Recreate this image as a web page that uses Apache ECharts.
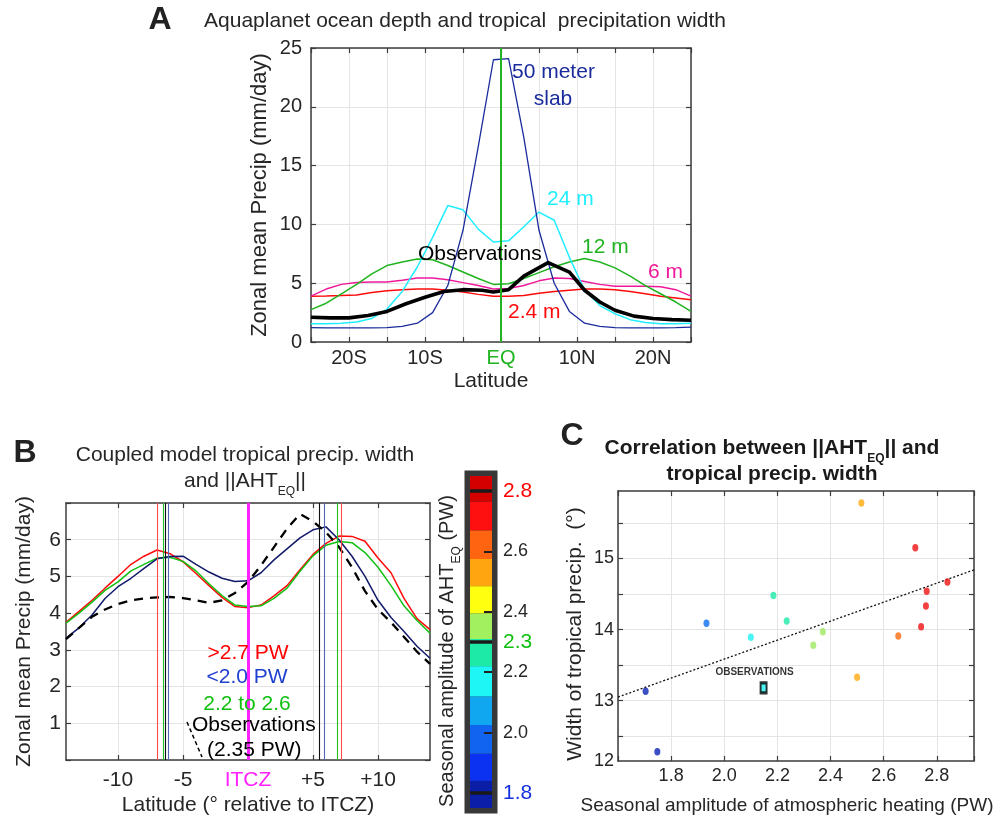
<!DOCTYPE html>
<html>
<head>
<meta charset="utf-8">
<script src="https://cdn.jsdelivr.net/npm/echarts@6/dist/echarts.min.js"></script>
<style>
  html, body { margin: 0; padding: 0; background: #fff; }
  #chart { width: 1005px; height: 821px; }
</style>
</head>
<body>
<div id="chart"></div>
<script>
// ---- panel A: aquaplanet, zonal mean precip (mm/day) vs latitude
const latA = [-25, -23, -21, -19, -17, -15, -13, -11, -9, -7, -5, -3, -1, 1, 3, 5, 7, 9, 11, 13, 15, 17, 19, 21, 23, 25];
const slab50 = [1.22, 1.2, 1.2, 1.2, 1.2, 1.22, 1.33, 1.6, 2.5, 4.8, 9.5, 16.6, 24.0, 24.1, 17.4, 9.5, 5.0, 2.6, 1.6, 1.33, 1.22, 1.2, 1.2, 1.2, 1.22, 1.27];
const slab24 = [1.56, 1.56, 1.6, 1.7, 2.0, 2.8, 4.3, 6.4, 8.9, 11.6, 11.25, 9.6, 8.5, 8.6, 9.8, 11.05, 10.35, 7.2, 4.4, 3.1, 2.4, 1.9, 1.65, 1.55, 1.55, 1.6];
const slab12 = [2.75, 3.3, 4.1, 4.9, 5.8, 6.5, 6.8, 7.05, 7.0, 6.5, 5.95, 5.4, 4.9, 4.95, 5.4, 5.9, 6.4, 6.8, 7.1, 6.8, 6.3, 5.6, 4.8, 4.1, 3.4, 2.6];
const slab6 = [3.9, 4.5, 4.9, 5.05, 5.1, 5.1, 5.25, 5.45, 5.45, 5.3, 5.05, 4.8, 4.5, 4.55, 4.8, 5.2, 5.45, 5.4, 5.15, 4.9, 4.75, 4.75, 4.75, 4.7, 4.45, 3.9];
const slab2p4 = [3.9, 3.92, 3.95, 4.0, 4.2, 4.35, 4.45, 4.5, 4.5, 4.4, 4.25, 4.05, 3.9, 3.9, 3.95, 4.15, 4.3, 4.4, 4.5, 4.5, 4.45, 4.3, 4.1, 3.9, 3.75, 3.6];
const obsLatA = [-25, -22.5, -20, -17.5, -15, -12.5, -10, -7.5, -5, -2.5, -1, 1, 3, 6.2, 9, 11, 13, 15, 17.5, 20, 22.5, 25];
const obsA = [2.1, 2.05, 2.05, 2.25, 2.6, 3.25, 3.8, 4.3, 4.45, 4.4, 4.25, 4.45, 5.6, 6.75, 5.95, 4.4, 3.4, 2.7, 2.2, 2.0, 1.9, 1.85];
const latTicksA = [-20, -10, 0, 10, 20];
const latNamesA = ['20S', '10S', 'EQ', '10N', '20N'];

// ---- panel B: coupled models, precip vs latitude relative to ITCZ
const latB = [-14, -13, -12, -11, -10, -9, -8, -7, -6, -5, -4, -3, -2, -1, 0, 1, 2, 3, 4, 5, 6, 7, 8, 9, 10, 11, 12, 13, 14];
const highB = [3.75, 4.05, 4.35, 4.68, 5.0, 5.33, 5.55, 5.72, 5.62, 5.4, 5.08, 4.75, 4.43, 4.18, 4.15, 4.22, 4.47, 4.75, 5.18, 5.6, 5.9, 6.1, 6.09, 5.96, 5.5, 5.1, 4.4, 3.85, 3.55];
const midB = [3.73, 4.0, 4.3, 4.62, 4.85, 5.15, 5.33, 5.5, 5.52, 5.41, 5.15, 4.8, 4.48, 4.22, 4.18, 4.2, 4.4, 4.68, 5.14, 5.56, 5.85, 5.95, 5.92, 5.65, 5.25, 4.75, 4.2, 3.8, 3.45];
const lowB = [3.32, 3.6, 3.95, 4.4, 4.72, 4.95, 5.22, 5.48, 5.54, 5.55, 5.33, 5.12, 4.95, 4.86, 4.88, 5.1, 5.45, 5.75, 6.05, 6.27, 6.35, 6.0, 5.55, 5.0, 4.35, 3.88, 3.5, 3.1, 2.77];
const obsB = [3.29, 3.6, 3.9, 4.1, 4.25, 4.35, 4.4, 4.43, 4.44, 4.41, 4.35, 4.28, 4.35, 4.55, 4.85, 5.3, 5.8, 6.3, 6.7, 6.5, 6.2, 5.8, 5.25, 4.6, 4.1, 3.75, 3.35, 2.95, 2.62];
// edges of the tropical precip band for each group
const edgesHigh = [-7.0, 7.2];
const edgesMid = [-6.55, 6.9];
const edgesLow = [-6.15, 5.9];
const edgesObs = [-6.38, 5.46];
const latTicksB = [-10, -5, 0, 5, 10];

// ---- colour bar (seasonal amplitude of AHT_EQ, PW)
const cbEdges = [1.75, 1.84, 1.93, 2.025, 2.12, 2.22, 2.31, 2.395, 2.485, 2.575, 2.67, 2.765, 2.85];
const cbColors = ['#0a1ea8', '#0a32f0', '#1064f0', '#10a6f0', '#1ef5f5', '#1eeaa8', '#a2f060', '#ffff10', '#ffa510', '#ff6410', '#ff1010', '#d40000'];
const cbLabels = [1.8, 2.0, 2.2, 2.3, 2.4, 2.6, 2.8];
const cbMinorTicks = [2.0, 2.2, 2.4, 2.6];
const cbBold = [1.8, 2.3, 2.8];

// ---- panel C: width of tropical precip vs seasonal amplitude
const ampC = [1.704, 1.748, 1.933, 2.1, 2.185, 2.235, 2.335, 2.371, 2.516, 2.5, 2.655, 2.719, 2.762, 2.759, 2.741, 2.84];
const widthC = [13.13, 12.28, 14.09, 13.89, 14.48, 14.12, 13.78, 13.97, 15.78, 13.33, 13.91, 15.15, 14.54, 14.33, 14.04, 14.67];
const obsAmpC = 2.148;
const obsWidthC = 13.18;
const fitX = [1.6, 2.94];
const fitY = [13.05, 14.84];
const widthTicksC = [12.5, 13, 13.5, 14, 14.5, 15, 15.5];
const widthLabelsC = [12.15, 13, 14, 15];

const FONT = '"Liberation Sans", Arial, Helvetica, sans-serif';
const AX = '#3c3c3c', GRID = '#e4e4e4', TXT = '#262626';
const NAVY = '#1a2c9c', CYAN = '#20eeff', GREEN = '#1fb41f', PINK = '#f0189a', RED = '#ff0a0a';

const pairs = (xs, ys) => xs.map((x, i) => [x, ys[i]]);

function axis(p) {
  const a = {
    type: 'value', gridIndex: p.grid, position: p.pos, min: p.min, max: p.max,
    axisLine: { show: true, onZero: false, lineStyle: { color: AX, width: 1.5 } },
    axisTick: { show: true, inside: true, length: 5, lineStyle: { color: AX, width: 1.2 } },
    axisLabel: { show: !!p.fmt, color: TXT, fontSize: p.fontSize || 20, fontFamily: FONT,
      margin: p.margin == null ? 8 : p.margin, formatter: p.fmt, rich: p.rich || {} },
    splitLine: { show: !!p.split, lineStyle: { color: GRID, width: 1 } },
    z: 3
  };
  if (p.interval != null) a.interval = p.interval;
  if (p.ticks) a.axisTick.customValues = p.ticks;
  if (p.labels) a.axisLabel.customValues = p.labels;
  if (p.name) {
    a.name = p.name;
    a.nameLocation = 'middle';
    a.nameGap = p.nameGap;
    a.nameTextStyle = { color: TXT, fontSize: p.nameSize, fontFamily: FONT, rich: p.nameRich || {}, padding: p.namePad || 0 };
  }
  return a;
}

const subRich = (size, bold) => ({ s: { fontSize: size, fontFamily: FONT, fontWeight: bold ? 'bold' : 'normal',
  verticalAlign: 'bottom', lineHeight: 14, padding: [0, 0, -6, 0] } });

const xAxis = [
  // 0,1: panel A
  axis({ grid: 0, pos: 'bottom', min: -25, max: 25, interval: 5, split: true, margin: 6,
    fmt: v => { const i = latTicksA.indexOf(v); return i < 0 ? '' : (v === 0 ? '{eq|EQ}' : latNamesA[i]); },
    rich: { eq: { color: GREEN, fontSize: 20, fontFamily: FONT } },
    name: 'Latitude', nameGap: 29, nameSize: 21, namePad: [0, 20, 0, 0] }),
  axis({ grid: 0, pos: 'top', min: -25, max: 25, interval: 5 }),
  // 2,3: panel B
  axis({ grid: 1, pos: 'bottom', min: -14, max: 14, ticks: latTicksB, labels: latTicksB, split: true, margin: 10,
    fmt: v => v === 0 ? '{itcz|ITCZ}' : (v > 0 ? '+' + v : String(v)),
    rich: { itcz: { color: '#ff22ff', fontSize: 21, fontFamily: FONT } }, fontSize: 21,
    name: 'Latitude (\u00b0 relative to ITCZ)', nameGap: 35, nameSize: 21 }),
  axis({ grid: 1, pos: 'top', min: -14, max: 14, ticks: latTicksB }),
  // 4: colour bar
  { type: 'category', gridIndex: 2, data: [''], show: false },
  // 5,6: panel C
  axis({ grid: 3, pos: 'bottom', min: 1.6, max: 2.94, interval: 0.2, split: true, margin: 6, fontSize: 18,
    fmt: v => (v < 1.7 || v > 2.85) ? '' : v.toFixed(1),
    name: 'Seasonal amplitude of atmospheric heating (PW)', nameGap: 35, nameSize: 19, namePad: [0, 18, 0, 0] }),
  axis({ grid: 3, pos: 'top', min: 1.6, max: 2.94, interval: 0.2 })
];

const cbRich = {
  r: { color: '#ff0000', fontSize: 21, fontFamily: FONT },
  g: { color: '#10c010', fontSize: 21, fontFamily: FONT },
  b: { color: '#1530e0', fontSize: 21, fontFamily: FONT },
  k: { color: TXT, fontSize: 18, fontFamily: FONT }
};

const yAxis = [
  // 0,1: panel A
  axis({ grid: 0, pos: 'left', min: 0, max: 25, interval: 5, split: true, margin: 9,
    fmt: v => String(v), name: 'Zonal mean Precip (mm/day)', nameGap: 40, nameSize: 22 }),
  axis({ grid: 0, pos: 'right', min: 0, max: 25, interval: 5 }),
  // 2,3: panel B
  axis({ grid: 1, pos: 'left', min: 0, max: 7, interval: 1, split: true, margin: 5, fontSize: 21,
    fmt: v => (v === 0 || v === 7) ? '' : String(v), name: 'Zonal mean Precip (mm/day)', nameGap: 31, nameSize: 21 }),
  axis({ grid: 1, pos: 'right', min: 0, max: 7, interval: 1 }),
  // 4: colour bar labels (right)
  {
    type: 'value', gridIndex: 2, position: 'right', min: cbEdges[0], max: cbEdges[cbEdges.length - 1], z: 10,
    axisLine: { show: false },
    axisTick: { show: true, inside: true, length: 8, customValues: cbMinorTicks, lineStyle: { color: '#202020', width: 2 } },
    axisLabel: { show: true, margin: 11, customValues: cbLabels, rich: cbRich,
      formatter: v => { const s = v.toFixed(1); const k = s === '2.8' ? 'r' : s === '2.3' ? 'g' : s === '1.8' ? 'b' : 'k'; return '{' + k + '|' + s + '}'; } },
    splitLine: { show: false }
  },
  // 5: colour bar name (left)
  {
    type: 'value', gridIndex: 2, position: 'left', min: 0, max: 1,
    axisLine: { show: false }, axisTick: { show: false }, axisLabel: { show: false }, splitLine: { show: false },
    name: 'Seasonal amplitude of AHT{s|EQ} (PW)', nameLocation: 'middle', nameGap: 13,
    nameTextStyle: { color: TXT, fontSize: 20, fontFamily: FONT, rich: subRich(12), padding: [0, 18, 0, 0] }
  },
  // 6,7: panel C
  axis({ grid: 3, pos: 'left', min: 12.15, max: 15.95, ticks: widthTicksC, labels: widthLabelsC, split: true, margin: 4, fontSize: 18,
    fmt: v => String(Math.round(v)), name: 'Width of tropical precip.  (\u00b0)', nameGap: 32, nameSize: 21, namePad: [0, 16, 0, 0] }),
  axis({ grid: 3, pos: 'right', min: 12.15, max: 15.95, ticks: widthTicksC })
];

const vline = (v, color, width) => ({ xAxis: v, lineStyle: { color, width, type: 'solid' } });
const markLines = data => ({ silent: true, symbol: 'none', label: { show: false }, animation: false, data });

const series = [];
// panel A curves
const lineA = (ys, color, width, xs) => ({
  type: 'line', xAxisIndex: 0, yAxisIndex: 0, data: pairs(xs || latA, ys), symbol: 'none',
  lineStyle: { color, width }, z: 3
});
series.push(lineA(slab2p4, RED, 1.5));
series.push(lineA(slab6, PINK, 1.5));
series.push(lineA(slab12, GREEN, 1.5));
series.push(lineA(slab24, CYAN, 1.5));
series.push(Object.assign(lineA(slab50, NAVY, 1.3), { markLine: markLines([vline(0, '#22b422', 2)]) }));
series.push(lineA(obsA, '#000', 3.6, obsLatA));

// panel B curves
const lineB = (ys, color, edgeColor, edges, dashed) => ({
  type: 'line', xAxisIndex: 2, yAxisIndex: 2, data: pairs(latB, ys), symbol: 'none',
  lineStyle: { color, width: dashed ? 2.3 : 1.5, type: dashed ? [9, 7] : 'solid' }, z: 3,
  markLine: markLines(edges.map(e => vline(e, edgeColor, 1.1)))
});
series.push(lineB(highB, RED, '#ff4a4a', edgesHigh));
series.push(lineB(midB, '#12c012', '#22c022', edgesMid));
series.push(lineB(lowB, '#111a6a', '#5565b5', edgesLow));
series.push(lineB(obsB, '#000', '#111', edgesObs, true));
series.push({ type: 'line', xAxisIndex: 2, yAxisIndex: 2, data: [], z: 4,
  markLine: markLines([vline(0, '#ff22ff', 3)]) });

// colour bar as stacked bar segments
cbColors.forEach((c, i) => {
  series.push({
    type: 'bar', xAxisIndex: 4, yAxisIndex: 4, stack: 'cb', barWidth: '100%', silent: true,
    data: [i === 0 ? cbEdges[1] : +(cbEdges[i + 1] - cbEdges[i]).toFixed(4)],
    itemStyle: { color: c },
    markLine: i === 0 ? { silent: true, symbol: 'none', label: { show: false },
      lineStyle: { color: '#1a1a1a', width: 3.5, type: 'solid' }, data: cbBold.map(v => ({ yAxis: v })) } : undefined,
    z: 2
  });
});

// panel C
series.push({ type: 'line', xAxisIndex: 5, yAxisIndex: 6, data: pairs(fitX, fitY), symbol: 'none',
  lineStyle: { color: '#111', width: 1.3, type: [2, 2] }, z: 3 });
const scatterIdx = series.length;
series.push({ type: 'scatter', xAxisIndex: 5, yAxisIndex: 6, data: pairs(ampC, widthC),
  symbol: 'circle', symbolSize: [6, 7.5], z: 4 });
series.push({ type: 'scatter', xAxisIndex: 5, yAxisIndex: 6, data: [[obsAmpC, obsWidthC]],
  symbol: 'rect', symbolSize: [6, 10], z: 5,
  itemStyle: { color: '#22f0f0', borderColor: '#000', borderWidth: 2.5 },
  label: { show: true, position: 'top', distance: 4, offset: [-9, 0], formatter: 'OBSERVATIONS',
    color: '#000', fontSize: 10, fontWeight: 'bold', fontFamily: FONT } });

function T(x, y, text, o) {
  o = o || {};
  const align = o.align || 'left';
  return {
    type: 'text', x, y, z: 50, silent: true,
    style: Object.assign({ text, fill: TXT, fontSize: 20, fontFamily: FONT,
      align, textAlign: align, verticalAlign: 'middle', textVerticalAlign: 'middle' }, o, { align, textAlign: align })
  };
}

const graphic = [
  T(160, 20, 'A', { fontSize: 32, fontWeight: 'bold', align: 'center', fill: '#222' }),
  T(465, 21, 'Aquaplanet ocean depth and tropical  precipitation width', { fontSize: 21, align: 'center' }),
  T(512, 72, '50 meter', { fill: NAVY, fontSize: 21 }),
  T(553, 99, 'slab', { fill: NAVY, fontSize: 21, align: 'center' }),
  T(547, 199, '24 m', { fill: CYAN, fontSize: 21 }),
  T(582, 247, '12 m', { fill: GREEN, fontSize: 21 }),
  T(648, 272, '6 m', { fill: PINK, fontSize: 21 }),
  T(508, 312, '2.4 m', { fill: RED, fontSize: 21 }),
  T(418, 254, 'Observations', { fill: '#000', fontSize: 21 }),

  T(25, 453, 'B', { fontSize: 32, fontWeight: 'bold', align: 'center', fill: '#222' }),
  T(245, 455, 'Coupled model tropical precip. width', { fontSize: 21, align: 'center' }),
  T(245, 481, 'and ||AHT{s|EQ}||', { fontSize: 21, align: 'center', rich: subRich(12) }),
  T(248, 653, '>2.7 PW', { fill: '#ff0000', align: 'center', fontSize: 21 }),
  T(247, 677, '<2.0 PW', { fill: '#1f3fcf', align: 'center', fontSize: 21 }),
  T(247, 704, '2.2 to 2.6', { fill: '#10c010', align: 'center', fontSize: 21 }),
  T(192, 725, 'Observations', { fill: '#000', fontSize: 21 }),
  T(207, 750, '(2.35 PW)', { fill: '#000', fontSize: 21 }),
  { type: 'line', z: 50, silent: true, shape: { x1: 187, y1: 722, x2: 202, y2: 757 },
    style: { stroke: '#000', lineWidth: 1.5, lineDash: [4, 3] } },

  T(572, 436, 'C', { fontSize: 32, fontWeight: 'bold', align: 'center', fill: '#222' }),
  T(772, 448, 'Correlation between ||AHT{s|EQ}|| and', { fontSize: 21, fontWeight: 'bold', align: 'center', fill: '#1a1a1a',
    rich: subRich(12, true) }),
  T(772, 474, 'tropical precip. width', { fontSize: 21, fontWeight: 'bold', align: 'center', fill: '#1a1a1a' })
];

const option = {
  animation: false,
  backgroundColor: '#fff',
  textStyle: { fontFamily: FONT },
  grid: [
    { left: 311, top: 48, width: 380, height: 294 },
    { left: 66, top: 503, width: 364, height: 257 },
    { left: 470, top: 476, width: 22, height: 332, show: true, borderColor: '#383838', borderWidth: 11, backgroundColor: '#383838' },
    { left: 618, top: 491, width: 356, height: 270 }
  ],
  xAxis, yAxis, series,
  visualMap: [{
    type: 'piecewise', show: false, seriesIndex: scatterIdx, dimension: 0,
    pieces: [
      { lt: 1.85, color: '#0a22b4' },
      { gte: 1.85, lt: 2.0, color: '#0c6ef2' },
      { gte: 2.0, lt: 2.15, color: '#1ef2f2' },
      { gte: 2.15, lt: 2.3, color: '#1ee8a6' },
      { gte: 2.3, lt: 2.45, color: '#9ee860' },
      { gte: 2.45, lt: 2.6, color: '#ffaa10' },
      { gte: 2.6, lt: 2.7, color: '#ff6a10' },
      { gte: 2.7, color: '#f01010' }
    ]
  }],
  graphic
};

const chart = echarts.init(document.getElementById('chart'), null, { renderer: 'canvas' });
chart.setOption(option);
</script>
</body>
</html>
